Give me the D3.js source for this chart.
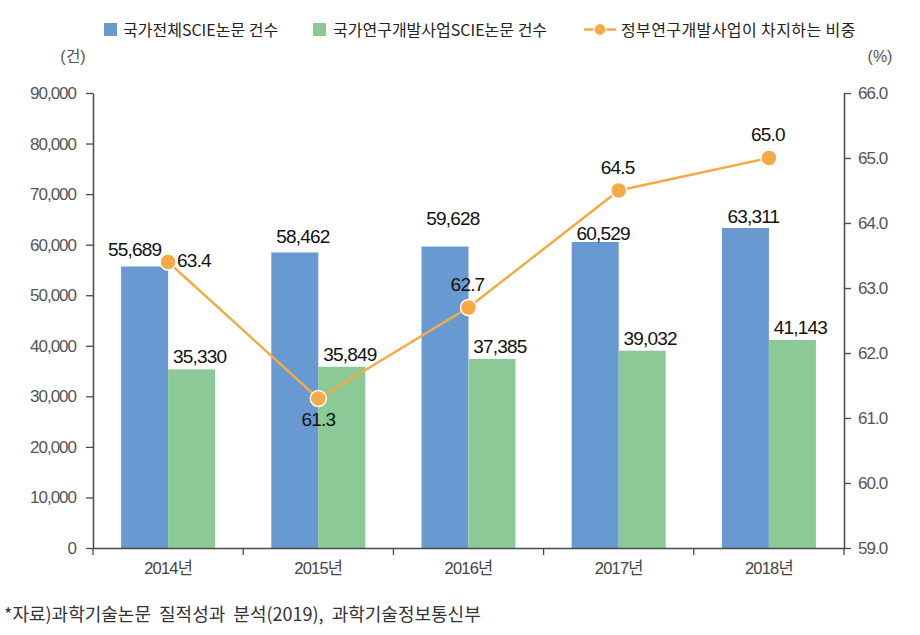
<!DOCTYPE html>
<html><head><meta charset="utf-8">
<script src="https://cdn.jsdelivr.net/npm/d3@7"></script>
<style>
body{margin:0;background:#fff;}
text{font-family:"Liberation Sans","Noto Sans CJK KR",sans-serif;}
</style></head>
<body><svg id="c" width="920" height="635"></svg>
<script>
const years = ["2014년","2015년","2016년","2017년","2018년"];
const totalPapers = [55689,58462,59628,60529,63311];
const rndPapers = [35330,35849,37385,39032,41143];
const share = [63.4,61.3,62.7,64.5,65.0];
const leftTicks = [0,10000,20000,30000,40000,50000,60000,70000,80000,90000];
const rightTicks = [59,60,61,62,63,64,65,66];
const seriesNames = ["국가전체SCIE논문 건수","국가연구개발사업SCIE논문 건수","정부연구개발사업이 차지하는 비중"];

const C = {blue:"#6899D0", green:"#8BC997", orange:"#F5AA46", axis:"#4a4a4a", tick:"#555"};
const svg = d3.select("#c");
const L=93, R=844, T=93, B=548;

const x = d3.scaleBand().domain(years).range([L,R]);
const yL = d3.scaleLinear().domain([0,90000]).range([B,T]);
const yR = d3.scaleLinear().domain([59,66]).range([B,T]);
const barW = 47;

const g = svg.append("g");
years.forEach((yr,i)=>{
  const cx = x(yr)+x.bandwidth()/2;
  g.append("rect").attr("x",cx-barW).attr("y",yL(totalPapers[i])).attr("width",barW).attr("height",B-yL(totalPapers[i])).attr("fill",C.blue);
  g.append("rect").attr("x",cx).attr("y",yL(rndPapers[i])).attr("width",barW).attr("height",B-yL(rndPapers[i])).attr("fill",C.green);
});

const axL = svg.append("g").attr("transform",`translate(${L},0)`).call(d3.axisLeft(yL).tickValues(leftTicks).tickFormat(d3.format(",")).tickSize(7).tickSizeOuter(0));
const axR = svg.append("g").attr("transform",`translate(${R},0)`).call(d3.axisRight(yR).tickValues(rightTicks).tickFormat(d3.format(".1f")).tickSize(7).tickSizeOuter(0));
const axB = svg.append("g").attr("transform",`translate(0,${B})`).call(d3.axisBottom(x).tickSize(0).tickSizeOuter(0));
const bounds = years.map(y=>x(y)).concat([R]);
axB.selectAll(".bt").data(bounds).enter().append("line").attr("x1",d=>d).attr("x2",d=>d).attr("y1",0).attr("y2",7).attr("stroke",C.axis).attr("stroke-width",1.3);
[axL,axR,axB].forEach(a=>{
  a.selectAll("path.domain").attr("stroke",C.axis).attr("stroke-width",1.5);
  a.selectAll(".tick line").attr("stroke",C.axis).attr("stroke-width",1.3);
  a.selectAll("text").attr("fill",C.tick).style("font-size","17px").style("letter-spacing","-1px");
});
axL.selectAll("text").attr("x",-17);
axR.selectAll("text").attr("x",14);
axB.selectAll("text").attr("y",14).attr("fill","#444").style("font-size","16.5px").style("letter-spacing","-0.8px");

const line = d3.line().x((d,i)=>x(years[i])+x.bandwidth()/2).y(d=>yR(d));
svg.append("path").datum(share).attr("d",line).attr("fill","none").attr("stroke",C.orange).attr("stroke-width",2.5);
svg.selectAll(".pt").data(share).enter().append("circle")
  .attr("cx",(d,i)=>x(years[i])+x.bandwidth()/2).attr("cy",d=>yR(d)).attr("r",8)
  .attr("fill",C.orange).attr("stroke","#fff").attr("stroke-width",1.5);

const lblStyle = s=>s.attr("fill","#111").style("font-size","19px").style("letter-spacing","-0.8px").attr("text-anchor","middle");
const blueLift = [10,9,22,2,5];
years.forEach((yr,i)=>{
  const cx = x(yr)+x.bandwidth()/2;
  svg.append("text").attr("x",cx-barW/2+ (i===0?-10:8)).attr("y",yL(totalPapers[i])-blueLift[i]).text(d3.format(",")(totalPapers[i])).call(lblStyle);
  svg.append("text").attr("x",cx+barW/2+8).attr("y",yL(rndPapers[i])-6).text(d3.format(",")(rndPapers[i])).call(lblStyle);
});
share.forEach((v,i)=>{
  const cx = x(years[i])+x.bandwidth()/2, cy=yR(v);
  let tx=cx-1, ty=cy-17, anchor="middle";
  if(i===0){tx=cx+9; ty=cy+5; anchor="start";}
  if(i===1){tx=cx; ty=cy+27;}
  svg.append("text").attr("x",tx).attr("y",ty).text(d3.format(".1f")(v)).call(lblStyle).attr("text-anchor",anchor);
});

svg.append("text").attr("x",73).attr("y",62).attr("text-anchor","middle").attr("fill",C.tick).style("font-size","16px").text("(건)");
svg.append("text").attr("x",880).attr("y",62).attr("text-anchor","middle").attr("fill",C.tick).style("font-size","16px").text("(%)");

const lg = svg.append("g").style("font-size","16px");
const lfont = "'Noto Sans CJK KR',sans-serif";
lg.append("rect").attr("x",104).attr("y",23).attr("width",13).attr("height",13).attr("fill",C.blue);
lg.append("text").attr("x",123).attr("y",35.5).attr("fill","#222").style("font-family",lfont).text(seriesNames[0]);
lg.append("rect").attr("x",313).attr("y",23).attr("width",13).attr("height",13).attr("fill",C.green);
lg.append("text").attr("x",333).attr("y",35.5).attr("fill","#222").style("font-family",lfont).text(seriesNames[1]);
lg.append("line").attr("x1",584).attr("x2",616).attr("y1",29.5).attr("y2",29.5).attr("stroke",C.orange).attr("stroke-width",2.5);
lg.append("circle").attr("cx",600).attr("cy",29.5).attr("r",6).attr("fill",C.orange).attr("stroke","#fff").attr("stroke-width",1.2);
lg.append("text").attr("x",621).attr("y",35.5).attr("fill","#222").style("font-family",lfont).style("letter-spacing","0.4px").text(seriesNames[2]);

svg.append("text").attr("x",4).attr("y",621).attr("fill","#333").style("font-family",lfont).style("font-size","18px")
  .text("*자료)과학기술논문  질적성과  분석(2019),  과학기술정보통신부").attr("xml:space","preserve").style("white-space","pre");
</script></body></html>
